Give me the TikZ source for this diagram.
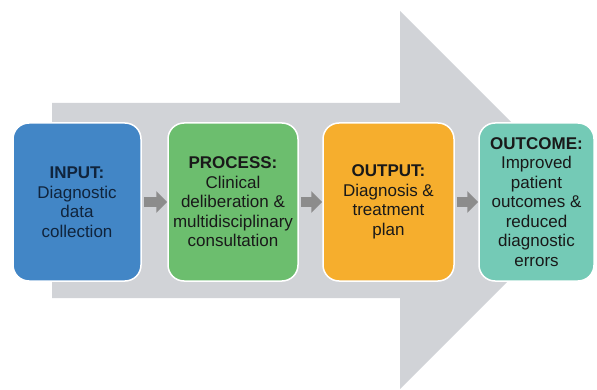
\documentclass[tikz,border=0pt]{standalone}
\usepackage{fontspec}
\setmainfont{Liberation Sans}
\usepackage{xcolor}
\usetikzlibrary{positioning, arrows.meta}

\definecolor{inputblue}{HTML}{4286C6}
\definecolor{processgreen}{HTML}{6CBE6E}
\definecolor{outputorange}{HTML}{F6AE2D}
\definecolor{outcometeal}{HTML}{74CAB6}
\definecolor{bigarrowgray}{HTML}{D1D3D7}
\definecolor{linkgray}{HTML}{8C8C8C}
\definecolor{navytext}{HTML}{10243C}

\begin{document}
\begin{tikzpicture}[
    x=1pt, y=1pt,
    font=\fontsize{17pt}{19.5pt}\selectfont,
    node distance=23.5pt,
    stage/.style={
        rectangle, rounded corners=16pt,
        draw=white, line width=1.5pt,
        minimum height=158pt,
        align=center, text=black!90,
        inner sep=2pt
    },
    link/.style={
        draw=linkgray, line width=10pt,
        -{Triangle[length=11pt, width=21pt]},
        shorten <=2pt
    },
]

\useasboundingbox (0,0) rectangle (597,389);

% ---------- Background arrow ----------
\fill[bigarrowgray] (52,286) -- (400,286) -- (400,378) -- (589,189)
    -- (400,0) -- (400,91) -- (52,91) -- cycle;

% ---------- Stages ----------
\node[stage, fill=inputblue, minimum width=128pt, text=navytext] (input) at (77,187)
    {\textbf{INPUT:}\\Diagnostic\\data\\collection};

\node[stage, fill=processgreen, minimum width=130pt, right=25.5pt of input] (process)
    {\textbf{PROCESS:}\\Clinical\\deliberation \&\\multidisciplinary\\consultation};

\node[stage, fill=outputorange, minimum width=131pt, right=of process] (output)
    {\textbf{OUTPUT:}\\Diagnosis \&\\treatment\\plan};

\node[stage, fill=outcometeal, minimum width=115pt, right=of output] (outcome)
    {\textbf{OUTCOME:}\\Improved\\patient\\outcomes \&\\reduced\\diagnostic\\errors};

% ---------- Arrows ----------
\draw[link] (input) -- (process);
\draw[link] (process) -- (output);
\draw[link] (output) -- (outcome);

\end{tikzpicture}
\end{document}
